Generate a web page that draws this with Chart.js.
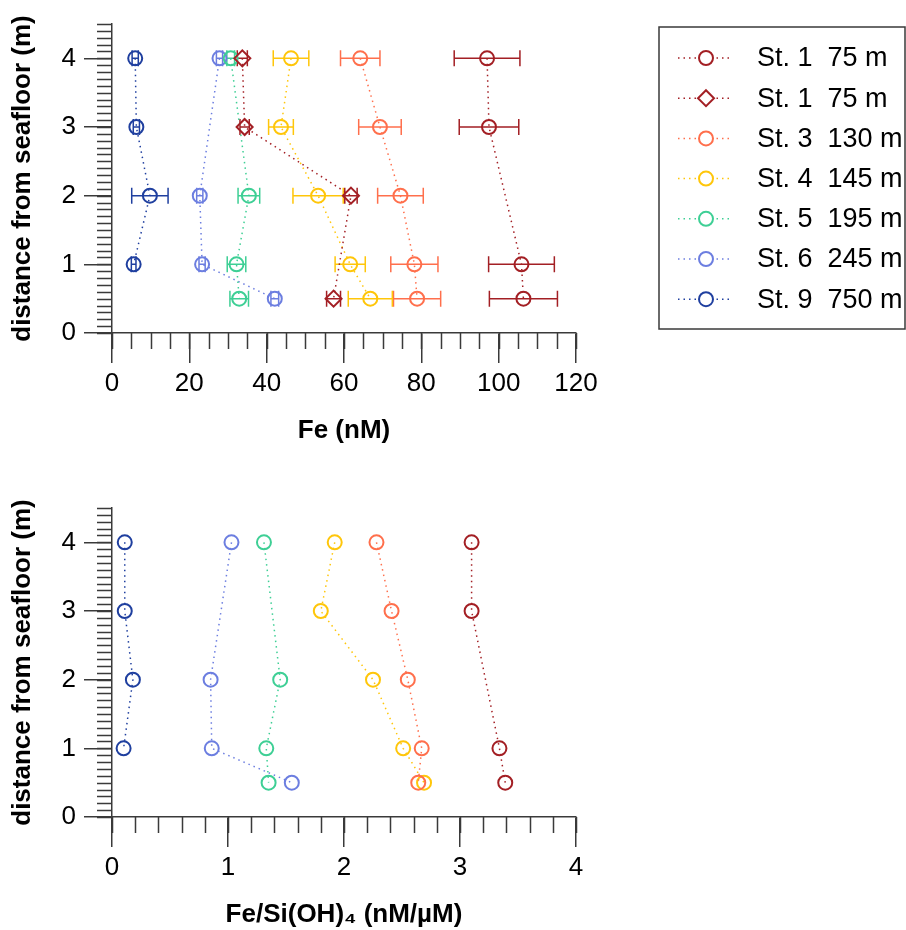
<!DOCTYPE html>
<html>
<head>
<meta charset="utf-8">
<script src="https://cdn.jsdelivr.net/npm/chart.js@4.4.1/dist/chart.umd.min.js"></script>
<style>
  body { margin: 0; background: #fff; }
  .panel { position: absolute; left: 0; width: 906px; height: 465px; }
  #fe-panel { top: 0; }
  #ratio-panel { top: 465px; }
</style>
</head>
<body>
<div class="panel" id="fe-panel"><canvas id="fe-chart"></canvas></div>
<div class="panel" id="ratio-panel"><canvas id="ratio-chart"></canvas></div>
<script>
  'use strict';

  // Sample heights above the seafloor (m) for each station profile.
  const heightsSt1 = [4, 3, 1, 0.5];
  const heightsSt1Diamond = [4, 3, 2, 0.5];
  const heightsSt3 = [4, 3, 2, 1, 0.5];
  const heightsSt4 = [4, 3, 2, 1, 0.5];
  const heightsSt5 = [4, 2, 1, 0.5];
  const heightsSt6 = [4, 2, 1, 0.5];
  const heightsSt9 = [4, 3, 2, 1];

  // Dissolved Fe (nM) and its standard deviation.
  const feSt1 = [97.0, 97.5, 105.9, 106.4];
  const feErrSt1 = [8.5, 7.7, 8.5, 8.8];
  const feSt1Diamond = [33.7, 34.3, 61.8, 57.3];
  const feErrSt1Diamond = [1.3, 1.2, 1.6, 1.8];
  const feSt3 = [64.2, 69.3, 74.6, 78.2, 78.9];
  const feErrSt3 = [5.1, 5.5, 5.9, 6.1, 6.1];
  const feSt4 = [46.3, 43.7, 53.3, 61.6, 66.8];
  const feErrSt4 = [4.6, 3.2, 6.5, 3.9, 5.7];
  const feSt5 = [30.7, 35.4, 32.2, 32.9];
  const feErrSt5 = [1.0, 2.8, 2.4, 2.4];
  const feSt6 = [27.8, 22.7, 23.3, 42.1];
  const feErrSt6 = [0.8, 0.8, 0.8, 1.0];
  const feSt9 = [6.0, 6.3, 9.8, 5.6];
  const feErrSt9 = [0.8, 0.8, 4.7, 0.6];

  // Fe/Si(OH)4 ratio (nM/µM).
  const ratioSt1 = [3.10, 3.10, 3.34, 3.39];
  const ratioSt3 = [2.28, 2.41, 2.55, 2.67, 2.64];
  const ratioSt4 = [1.92, 1.80, 2.25, 2.51, 2.69];
  const ratioSt5 = [1.31, 1.45, 1.33, 1.35];
  const ratioSt6 = [1.03, 0.85, 0.86, 1.55];
  const ratioSt9 = [0.11, 0.11, 0.18, 0.10];

  const heightTicks = [0, 1, 2, 3, 4];
  const feTicks = [0, 20, 40, 60, 80, 100, 120];
  const ratioTicks = [0, 1, 2, 3, 4];

  const stationLabels = ['St. 1  75 m', 'St. 1  75 m', 'St. 3  130 m', 'St. 4  145 m',
    'St. 5  195 m', 'St. 6  245 m', 'St. 9  750 m'];

  const colors = {
    st1: '#a31f24',
    st3: '#ff6f4c',
    st4: '#ffc60a',
    st5: '#3ecf95',
    st6: '#6c7ee0',
    st9: '#1f3f9f',
  };

  const fontFamily = "'Liberation Sans', Arial, sans-serif";
  const axisColor = '#3a3a3a';
  const dotted = [1.5, 4];

  function points(xs, ys) {
    return xs.map((v, i) => ({x: v, y: ys[i]}));
  }

  function profile(label, color, xs, ys, errors, style) {
    return {
      label: label,
      data: points(xs, ys),
      errors: errors,
      showLine: true,
      borderColor: color,
      borderWidth: 1.5,
      borderDash: dotted,
      pointStyle: style || 'circle',
      pointRadius: style === 'rectRot' ? 8 : 7,
      pointHoverRadius: style === 'rectRot' ? 8 : 7,
      pointBorderWidth: 2,
      pointBorderColor: color,
      pointBackgroundColor: 'rgba(0,0,0,0)',
    };
  }

  // Horizontal error bars with end caps, drawn under the markers.
  const errorBars = {
    id: 'errorBars',
    beforeDatasetsDraw(chart) {
      const {ctx, scales: {x, y}} = chart;
      chart.data.datasets.forEach((ds) => {
        if (!ds.errors) return;
        ctx.save();
        ctx.strokeStyle = ds.borderColor;
        ctx.lineWidth = 1.5;
        ds.data.forEach((pt, j) => {
          const err = ds.errors[j];
          const py = y.getPixelForValue(pt.y);
          const x0 = x.getPixelForValue(pt.x - err);
          const x1 = x.getPixelForValue(pt.x + err);
          ctx.beginPath();
          ctx.moveTo(x0, py);
          ctx.lineTo(x1, py);
          ctx.moveTo(x0, py - 8);
          ctx.lineTo(x0, py + 8);
          ctx.moveTo(x1, py - 8);
          ctx.lineTo(x1, py + 8);
          ctx.stroke();
        });
        ctx.restore();
      });
    },
  };

  // Short minor ticks between the labelled ones.
  const minorTicks = {
    id: 'minorTicks',
    afterDraw(chart, args, opts) {
      const {ctx, chartArea, scales: {x, y}} = chart;
      ctx.save();
      ctx.strokeStyle = axisColor;
      ctx.lineWidth = 1.5;
      ctx.beginPath();
      let n = Math.round((y.max - y.min) / opts.yStep);
      for (let i = 0; i <= n; i++) {
        const py = Math.round(y.getPixelForValue(y.min + i * opts.yStep)) + 0.5;
        ctx.moveTo(chartArea.left, py);
        ctx.lineTo(chartArea.left - 15, py);
      }
      n = Math.round((x.max - x.min) / opts.xStep);
      for (let i = 0; i <= n; i++) {
        const px = Math.round(x.getPixelForValue(x.min + i * opts.xStep)) + 0.5;
        ctx.moveTo(px, chartArea.bottom);
        ctx.lineTo(px, chartArea.bottom + 16);
      }
      ctx.stroke();
      ctx.restore();
    },
  };

  // Framed legend to the right of the Fe panel.
  const stationLegend = {
    id: 'stationLegend',
    afterDraw(chart, args, opts) {
      if (!opts.show) return;
      const {ctx} = chart;
      ctx.save();
      ctx.strokeStyle = axisColor;
      ctx.lineWidth = 1.5;
      ctx.strokeRect(opts.left, opts.top, opts.width, opts.height);
      ctx.font = '27px ' + fontFamily;
      ctx.textBaseline = 'middle';
      chart.data.datasets.forEach((ds, i) => {
        const cy = opts.top + opts.firstRow + i * opts.rowGap;
        const mx = opts.left + 47;
        ctx.strokeStyle = ds.borderColor;
        ctx.lineWidth = 1.5;
        ctx.setLineDash(dotted);
        ctx.beginPath();
        ctx.moveTo(opts.left + 19, cy);
        ctx.lineTo(opts.left + 74, cy);
        ctx.stroke();
        ctx.setLineDash([]);
        ctx.lineWidth = 2;
        ctx.fillStyle = '#fff';
        ctx.beginPath();
        if (ds.pointStyle === 'rectRot') {
          ctx.moveTo(mx, cy - 8);
          ctx.lineTo(mx + 8, cy);
          ctx.lineTo(mx, cy + 8);
          ctx.lineTo(mx - 8, cy);
          ctx.closePath();
        } else {
          ctx.arc(mx, cy, 7, 0, Math.PI * 2);
        }
        ctx.fill();
        ctx.stroke();
        ctx.fillStyle = '#000';
        ctx.fillText(ds.label, opts.left + 98, cy + 1);
      });
      ctx.restore();
    },
  };

  function axes(xMin, xMax, xTicks, xTitle) {
    const tickFont = {family: fontFamily, size: 26};
    const titleFont = {family: fontFamily, size: 26, weight: 'bold'};
    return {
      x: {
        type: 'linear',
        min: xMin,
        max: xMax,
        afterBuildTicks: (scale) => { scale.ticks = xTicks.map((v) => ({value: v})); },
        afterFit: (scale) => { scale.height = 113; },
        grid: {drawOnChartArea: false, tickLength: 30, color: axisColor, lineWidth: 1.5},
        border: {color: axisColor, width: 1.5},
        ticks: {font: tickFont, color: '#000', padding: 5, maxRotation: 0},
        title: {display: true, text: xTitle, font: titleFont, color: '#000',
          padding: {top: 10, bottom: 0}},
      },
      y: {
        type: 'linear',
        min: 0,
        max: 4.5,
        afterBuildTicks: (scale) => { scale.ticks = heightTicks.map((v) => ({value: v})); },
        afterFit: (scale) => { scale.width = 112; },
        grid: {drawOnChartArea: false, tickLength: 28, color: axisColor, lineWidth: 1.5},
        border: {color: axisColor, width: 1.5},
        ticks: {font: tickFont, color: '#000', padding: 8},
        title: {display: true, text: 'distance from seafloor (m)', font: titleFont,
          color: '#000', padding: {top: 7, bottom: 0}},
      },
    };
  }

  function baseOptions(padTop, padBottom) {
    return {
      responsive: true,
      maintainAspectRatio: false,
      animation: false,
      layout: {padding: {left: 0, top: padTop, right: 330, bottom: padBottom}},
      plugins: {
        legend: {display: false},
        tooltip: {enabled: false},
      },
    };
  }

  const feDatasets = [
    profile(stationLabels[0], colors.st1, feSt1, heightsSt1, feErrSt1),
    profile(stationLabels[1], colors.st1, feSt1Diamond, heightsSt1Diamond, feErrSt1Diamond, 'rectRot'),
    profile(stationLabels[2], colors.st3, feSt3, heightsSt3, feErrSt3),
    profile(stationLabels[3], colors.st4, feSt4, heightsSt4, feErrSt4),
    profile(stationLabels[4], colors.st5, feSt5, heightsSt5, feErrSt5),
    profile(stationLabels[5], colors.st6, feSt6, heightsSt6, feErrSt6),
    profile(stationLabels[6], colors.st9, feSt9, heightsSt9, feErrSt9),
  ];

  const feOptions = baseOptions(24, 19);
  feOptions.scales = axes(0, 120, feTicks, 'Fe (nM)');
  feOptions.plugins.minorTicks = {xStep: 5, yStep: 0.1};
  feOptions.plugins.stationLegend = {show: true, left: 659, top: 27, width: 246, height: 302,
    firstRow: 31, rowGap: 40.2};

  new Chart(document.getElementById('fe-chart'), {
    type: 'scatter',
    data: {datasets: feDatasets},
    options: feOptions,
    plugins: [errorBars, minorTicks, stationLegend],
  });

  const ratioDatasets = [
    profile(stationLabels[0], colors.st1, ratioSt1, heightsSt1),
    profile(stationLabels[2], colors.st3, ratioSt3, heightsSt3),
    profile(stationLabels[3], colors.st4, ratioSt4, heightsSt4),
    profile(stationLabels[4], colors.st5, ratioSt5, heightsSt5),
    profile(stationLabels[5], colors.st6, ratioSt6, heightsSt6),
    profile(stationLabels[6], colors.st9, ratioSt9, heightsSt9),
  ];

  const ratioOptions = baseOptions(43, 0);
  ratioOptions.scales = axes(0, 4, ratioTicks, 'Fe/Si(OH)\u2084 (nM/\u00b5M)');
  ratioOptions.plugins.minorTicks = {xStep: 0.2, yStep: 0.1};
  ratioOptions.plugins.stationLegend = {show: false};

  new Chart(document.getElementById('ratio-chart'), {
    type: 'scatter',
    data: {datasets: ratioDatasets},
    options: ratioOptions,
    plugins: [errorBars, minorTicks, stationLegend],
  });
</script>
</body>
</html>
